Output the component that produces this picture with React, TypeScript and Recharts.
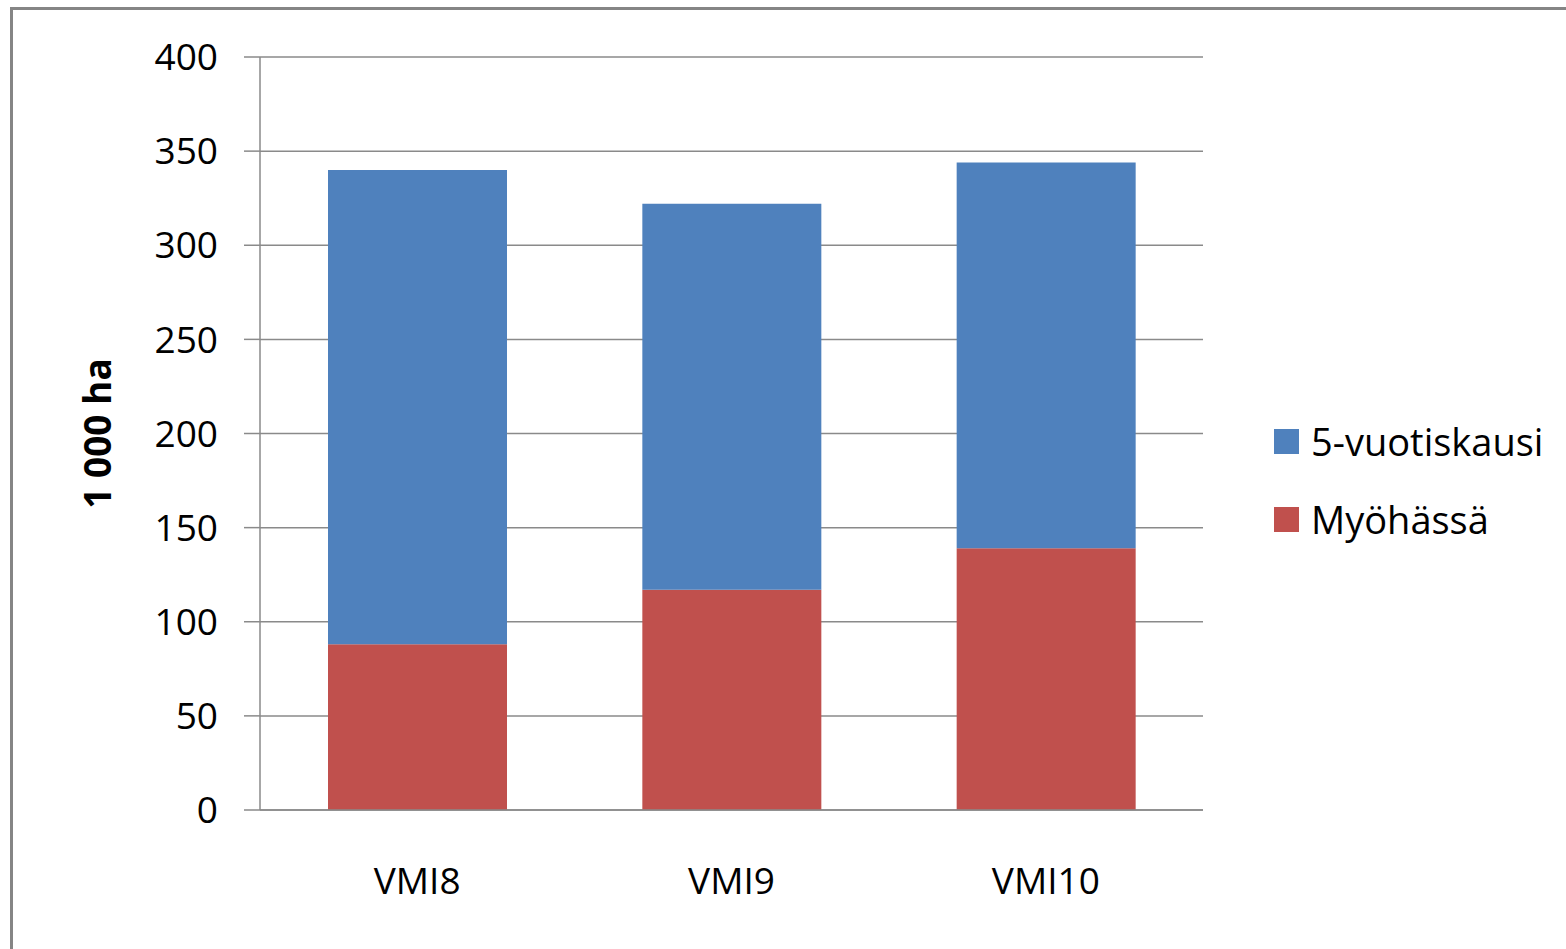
import React from 'react';
import { BarChart, Bar, XAxis, YAxis, CartesianGrid, Legend } from 'recharts';

const categories = ['VMI8', 'VMI9', 'VMI10'];
const myohassa = [88, 117, 139];
const viisivuotis = [252, 205, 205];
const yTicks = [0, 50, 100, 150, 200, 250, 300, 350, 400];
const seriesNames = { late: 'Myöhässä', five: '5-vuotiskausi' };
const legendOrder = [seriesNames.five, seriesNames.late];
const yLabel = '1 000 ha';

const data = categories.map((c, i) => ({ name: c, late: myohassa[i], five: viisivuotis[i] }));

const FONT = '"Open Sans", sans-serif';
const GRID = '#8a8a8a';

const renderLegend = (props: any) => {
  const items = [...(props.payload || [])].sort(
    (a: any, b: any) => legendOrder.indexOf(a.value) - legendOrder.indexOf(b.value)
  );
  return (
    <div style={{ fontFamily: FONT }}>
      {items.map((it: any) => (
        <div key={it.value} style={{ display: 'flex', alignItems: 'center', height: 78 }}>
          <div style={{ width: 25, height: 25, background: it.color, marginRight: 12 }} />
          <span style={{ fontSize: 38, lineHeight: 1, color: '#000' }}>{it.value}</span>
        </div>
      ))}
    </div>
  );
};

const YLabelContent = (props: any) => {
  const vb = props.viewBox || {};
  const cx = vb.x + 96;
  const cy = vb.y + vb.height / 2;
  return (
    <text
      x={cx}
      y={cy}
      transform={`rotate(-90, ${cx}, ${cy})`}
      textAnchor="middle"
      dominantBaseline="central"
      style={{ fontFamily: FONT, fontSize: 37, fontWeight: 700, fill: '#000' }}
    >
      {yLabel}
    </text>
  );
};

export default function App() {
  return (
    <div style={{ position: 'absolute', left: 0, top: 0, width: 1566, height: 949, overflow: 'hidden', background: '#fff' }}>
      <div
        style={{
          position: 'absolute',
          left: 10,
          top: 7,
          width: 1600,
          height: 1000,
          border: '3px solid #858585',
          boxSizing: 'border-box',
        }}
      />
      <div style={{ position: 'absolute', left: 0, top: 0 }}>
        <BarChart
          width={1566}
          height={949}
          data={data}
          margin={{ top: 57, right: 363, bottom: 0, left: 0 }}
        >
          <CartesianGrid vertical={false} stroke={GRID} strokeWidth={1.5} />
          <XAxis
            dataKey="name"
            height={139}
            tickLine={false}
            tickSize={0}
            tickMargin={58}
            axisLine={{ stroke: GRID, strokeWidth: 1.5 }}
            tick={{ fontFamily: FONT, fontSize: 37, fill: '#000' }}
          />
          <YAxis
            width={260}
            domain={[0, 400]}
            ticks={yTicks}
            interval={0}
            tickSize={16}
            tickMargin={26}
            axisLine={{ stroke: GRID, strokeWidth: 1.5 }}
            tickLine={{ stroke: GRID, strokeWidth: 1.5 }}
            tick={{ fontFamily: FONT, fontSize: 37, fill: '#000' }}
            label={<YLabelContent />}
          />
          <Legend
            layout="horizontal"
            align="center"
            verticalAlign="middle"
            content={renderLegend}
            wrapperStyle={{ left: 1274, top: 402, width: 290 }}
          />
          <Bar dataKey="late" name={seriesNames.late} stackId="a" fill="#C0504D" barSize={179} isAnimationActive={false} />
          <Bar dataKey="five" name={seriesNames.five} stackId="a" fill="#4F81BD" barSize={179} isAnimationActive={false} />
        </BarChart>
      </div>
    </div>
  );
}
